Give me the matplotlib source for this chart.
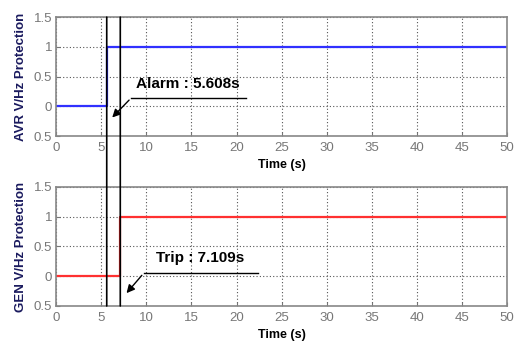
import numpy as np
import matplotlib
matplotlib.use("Agg")
import matplotlib.pyplot as plt
from matplotlib.patches import ConnectionPatch

plt.rcParams["font.family"] = ["Liberation Sans", "DejaVu Sans"]

t_alarm = 5.608
t_trip = 7.109
time_avr = [0, t_alarm, t_alarm, 50]
avr_vals = [0, 0, 1, 1]
time_gen = [0, t_trip, t_trip, 50]
gen_vals = [0, 0, 1, 1]
xticks = [0, 5, 10, 15, 20, 25, 30, 35, 40, 45, 50]
yticks = [-0.5, 0, 0.5, 1, 1.5]
ytick_labels = ["0.5", "0", "0.5", "1", "1.5"]

fig = plt.figure(figsize=(5.15, 3.43), dpi=100)
a1 = fig.add_axes([0.109, 0.603, 0.876, 0.347])
a2 = fig.add_axes([0.109, 0.108, 0.876, 0.347])

a1.plot(time_avr, avr_vals, c="#3030ff", lw=1.6)
a2.plot(time_gen, gen_vals, c="#ff3030", lw=1.6)

for a, lab in [(a1, "AVR V/Hz Protection"), (a2, "GEN V/Hz Protection")]:
    a.set_xlim(0, 50)
    a.set_ylim(-0.5, 1.5)
    a.set_xticks(xticks)
    a.set_yticks(yticks)
    a.set_yticklabels(ytick_labels)
    a.grid(True, ls=(0, (1, 2)), c="#555555", lw=0.8)
    a.tick_params(labelsize=9.5, labelcolor="#777777", color="#777777", direction="in", length=3, pad=4)
    a.tick_params(axis="y", pad=3)
    for s in a.spines.values():
        s.set_color("#888888")
        s.set_linewidth(1.2)
    a.set_xlabel("Time (s)", fontsize=9, fontweight="bold", labelpad=4)
    a.set_ylabel(lab, fontsize=9.5, fontweight="bold", color="#1a1a5e", labelpad=5)

# vertical markers spanning both plots
for t in [t_alarm, t_trip]:
    con = ConnectionPatch(xyA=(t, 1.5), coordsA=a1.transData,
                          xyB=(t, -0.5), coordsB=a2.transData,
                          color="black", lw=1.2)
    fig.add_artist(con)

a1.text(14.6, 0.38, "Alarm : 5.608s", fontsize=11, fontweight="bold", ha="center", va="center")
a1.plot([8.3, 21.0], [0.14, 0.14], c="black", lw=1)
a1.annotate("", xy=(6.0, -0.22), xytext=(8.3, 0.14),
            arrowprops=dict(arrowstyle="-|>", color="black", lw=1, mutation_scale=12))

a2.text(16.0, 0.3, "Trip : 7.109s", fontsize=11, fontweight="bold", ha="center", va="center")
a2.plot([9.7, 22.4], [0.05, 0.05], c="black", lw=1)
a2.annotate("", xy=(7.6, -0.32), xytext=(9.7, 0.05),
            arrowprops=dict(arrowstyle="-|>", color="black", lw=1, mutation_scale=12))

fig.savefig("out.png", dpi=100)
